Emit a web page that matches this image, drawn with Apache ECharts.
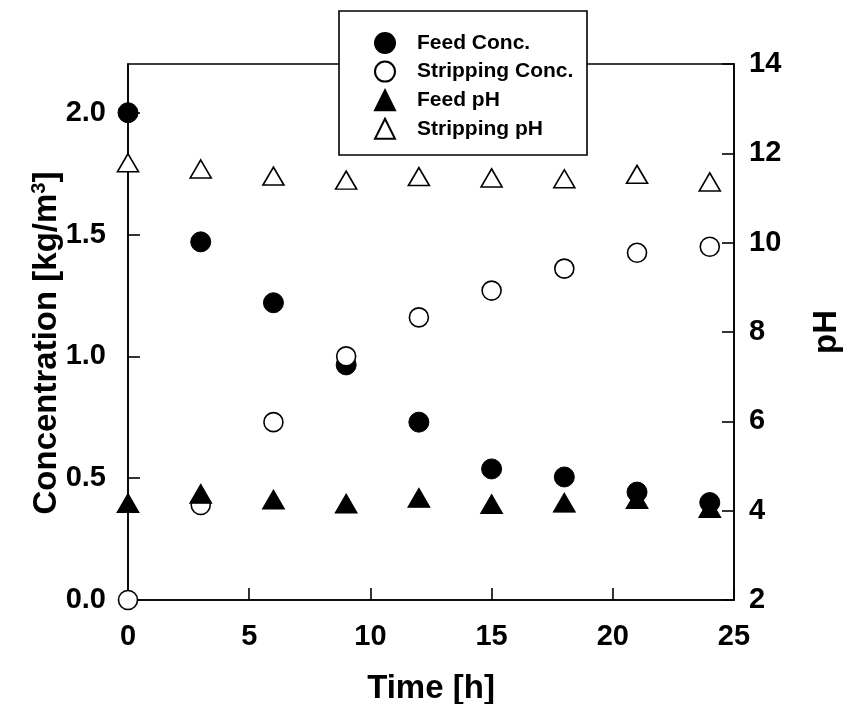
<!DOCTYPE html>
<html>
<head>
<meta charset="utf-8">
<script src="https://cdn.jsdelivr.net/npm/echarts@6/dist/echarts.min.js"></script>
<style>
  html, body { margin: 0; padding: 0; background: #fff; }
  #chart { width: 844px; height: 704px; }
</style>
</head>
<body>
<div id="chart"></div>
<script>
// Sampling times [h]
const timeH = [0, 3, 6, 9, 12, 15, 18, 21, 24];
// Concentrations [kg/m3]
const feedConc = [2.0, 1.47, 1.22, 0.965, 0.73, 0.538, 0.505, 0.443, 0.40];
const strippingConc = [0.0, 0.39, 0.73, 1.0, 1.16, 1.27, 1.36, 1.425, 1.45];
// pH values
const feedPH = [4.17, 4.38, 4.25, 4.16, 4.29, 4.15, 4.18, 4.26, 4.06];
const strippingPH = [11.79, 11.65, 11.49, 11.40, 11.48, 11.45, 11.43, 11.53, 11.36];
// Axis ticks
const xTicks = [0, 5, 10, 15, 20, 25];
const concTicks = [0, 0.5, 1.0, 1.5, 2.0];
const phTicks = [2, 4, 6, 8, 10, 12, 14];

const FONT = '"Liberation Sans", Arial, sans-serif';
const pairs = (xs, ys) => xs.map((x, i) => [x, ys[i]]);

const lineStyle = { color: '#000', width: 1.6 };
const labelStyle = { color: '#000', fontFamily: FONT, fontWeight: 'bold', fontSize: 29 };
const nameStyle = { color: '#000', fontFamily: FONT, fontWeight: 'bold', fontSize: 33 };

const chart = echarts.init(document.getElementById('chart'), null, { renderer: 'canvas' });
chart.setOption({
  animation: false,
  backgroundColor: '#fff',
  grid: {
    left: 128, right: 110, top: 64, bottom: 104,
    outerBoundsMode: 'none', containLabel: false,
    show: true, borderColor: '#000', borderWidth: 1.6, backgroundColor: 'transparent'
  },
  xAxis: {
    type: 'value', min: 0, max: 25, interval: 5,
    name: 'Time [h]', nameLocation: 'middle', nameGap: 72,
    nameTextStyle: nameStyle,
    axisLine: { show: true, onZero: false, lineStyle },
    axisTick: { show: true, inside: true, length: 12, lineStyle, customValues: xTicks },
    axisLabel: Object.assign({ margin: 22, customValues: xTicks }, labelStyle),
    splitLine: { show: false }
  },
  yAxis: [
    {
      type: 'value', min: 0, max: 2.2, position: 'left',
      name: 'Concentration [kg/m{sup|3}]', nameLocation: 'middle', nameGap: 64, nameRotate: 90,
      nameMoveOverlap: false,
      nameTextStyle: Object.assign({}, nameStyle, {
        padding: [0, 22, 0, 0],
        rich: { sup: { color: '#000', fontFamily: FONT, fontWeight: 'bold', fontSize: 20, verticalAlign: 'top', padding: [0, 0, 15, 0] } }
      }),
      axisLine: { show: true, onZero: false, lineStyle },
      axisTick: { show: true, inside: true, length: 12, lineStyle, customValues: concTicks },
      axisLabel: Object.assign({ margin: 22, customValues: concTicks, formatter: v => v.toFixed(1) }, labelStyle),
      splitLine: { show: false }
    },
    {
      type: 'value', min: 2, max: 14, interval: 2, position: 'right',
      name: 'pH', nameLocation: 'middle', nameGap: 76, nameRotate: 90,
      nameTextStyle: nameStyle,
      axisLine: { show: true, onZero: false, lineStyle },
      axisTick: { show: true, inside: true, length: 12, lineStyle, customValues: phTicks },
      axisLabel: Object.assign({ margin: 15, customValues: phTicks }, labelStyle),
      splitLine: { show: false }
    }
  ],
  legend: {
    orient: 'vertical', left: 369, top: 27, z: 30,
    itemWidth: 20, itemHeight: 20, itemGap: 6.6,
    textStyle: { color: '#000', fontFamily: FONT, fontWeight: 'bold', fontSize: 21, lineHeight: 20, padding: [0, 0, 0, 17] },
    data: ['Feed Conc.', 'Stripping Conc.', 'Feed pH', 'Stripping pH']
  },
  graphic: [{
    type: 'rect', z: 20,
    shape: { x: 339, y: 11, width: 248, height: 144 },
    style: { fill: '#fff', stroke: '#000', lineWidth: 1.6 }
  }],
  series: [
    {
      name: 'Feed Conc.', type: 'scatter', yAxisIndex: 0,
      symbol: 'circle', symbolSize: 20,
      itemStyle: { color: '#000', borderColor: '#000', borderWidth: 1, opacity: 1 },
      data: pairs(timeH, feedConc)
    },
    {
      name: 'Stripping Conc.', type: 'scatter', yAxisIndex: 0,
      symbol: 'circle', symbolSize: 19,
      itemStyle: { color: '#fff', borderColor: '#000', borderWidth: 1.6, opacity: 1 },
      data: pairs(timeH, strippingConc)
    },
    {
      name: 'Feed pH', type: 'scatter', yAxisIndex: 1,
      symbol: 'triangle', symbolSize: [22, 19],
      itemStyle: { color: '#000', borderColor: '#000', borderWidth: 1, opacity: 1 },
      data: pairs(timeH, feedPH)
    },
    {
      name: 'Stripping pH', type: 'scatter', yAxisIndex: 1,
      symbol: 'triangle', symbolSize: [21, 18],
      itemStyle: { color: '#fff', borderColor: '#000', borderWidth: 1.6, opacity: 1 },
      data: pairs(timeH, strippingPH)
    }
  ]
});
</script>
</body>
</html>
